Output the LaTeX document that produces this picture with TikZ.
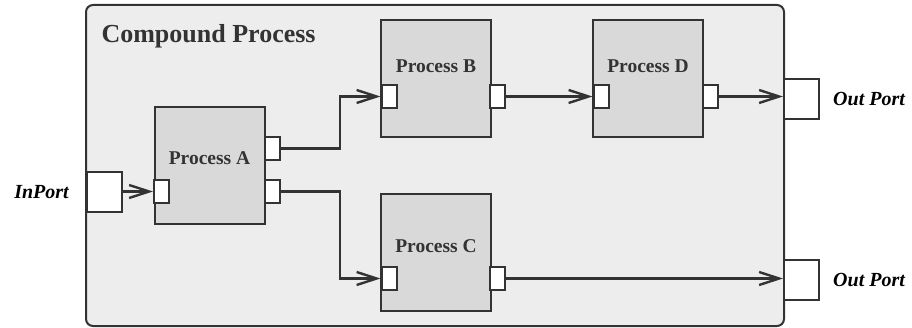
\documentclass[tikz,border=0pt]{standalone}
\usepackage{fontspec}
\setmainfont{Liberation Serif}
\usepackage{tikz}
\usetikzlibrary{
  arrows.meta,
  positioning
}
\definecolor{compoundgray}{gray}{0.93}
\definecolor{procgray}{gray}{0.85}
\definecolor{linegray}{gray}{0.2}
\tikzset{>={Straight Barb[length=20pt,width=13pt]}}
\tikzset{compound/.style={draw=linegray, line width=2pt, rounded corners=7pt, fill=compoundgray,
    minimum width=698pt, minimum height=321pt, inner sep=0pt}}
\tikzset{proc/.style={draw=linegray, line width=2pt, fill=procgray,
    minimum width=110pt, minimum height=117pt, inner sep=0pt}}
\tikzset{port/.style={draw=linegray, line width=2pt, fill=white,
    minimum width=15pt, minimum height=23pt, inner sep=0pt}}
\tikzset{extport/.style={draw=linegray, line width=2pt, fill=white,
    minimum width=35pt, minimum height=40pt, inner sep=0pt}}
\tikzset{title/.style={font=\fontsize{19.5}{22}\selectfont\bfseries, text=linegray}}
\tikzset{portlabel/.style={font=\fontsize{20}{22}\selectfont\bfseries\itshape, inner sep=0pt}}
\tikzset{flow/.style={->, draw=linegray, line width=2.4pt}}

\begin{document}
\begin{tikzpicture}[x=1pt, y=-1pt]
  \useasboundingbox (0,0) rectangle (912,328);
  % container
  \node[compound] (cp) at (435,165.5) {};
  \node[anchor=base west, text=linegray, font=\fontsize{26}{30}\selectfont\bfseries] (cptitle) at (98,43) {Compound Process};
  % processes
  \node[proc] (pa) at (209.5,166) {};
  \node[proc] (pb) at (436,79) {};
  \node[proc] (pd) at (648,78.5) {};
  \node[proc] (pc) at (436,253) {};
  \node[title] (ta) at (209.5,158) {Process A};
  \node[title] (tb) at (436,66) {Process B};
  \node[title] (td) at (648,66) {Process D};
  \node[title] (tc) at (436,246) {Process C};
  % ports
  \node[port] (pai) at (161.5,191.5) {};
  \node[port] (pao1) at (272.5,148.5) {};
  \node[port] (pao2) at (272.5,191.5) {};
  \node[port] (pbi) at (389,96.5) {};
  \node[port] (pbo) at (497.5,96.5) {};
  \node[port] (pdi) at (601,96.5) {};
  \node[port] (pdo) at (710.5,96.5) {};
  \node[port] (pci) at (389,278.5) {};
  \node[port] (pco) at (497.5,278.5) {};
  \node[extport] (inport) at (104.5,192.5) {};
  \node[extport] (outa) at (801.5,99) {};
  \node[extport] (outb) at (801.5,280) {};
  \node[portlabel, left=17pt of inport] (lin) {InPort};
  \node[portlabel, right=13pt of outa] (louta) {Out Port};
  \node[portlabel, right=13pt of outb] (loutb) {Out Port};
  % connectors
  \draw[flow] (inport.east |- pai.west) -- (pai.west);
  \draw[flow] (pao1.east) -- ++(59,0) |- (pbi.west);
  \draw[flow] (pao2.east) -- ++(59,0) |- (pci.west);
  \draw[flow] (pbo.east) -- (pdi.west);
  \draw[flow] (pdo.east) -- (pdo.east -| outa.west);
  \draw[flow] (pco.east) -- (pco.east -| outb.west);
\end{tikzpicture}
\end{document}
